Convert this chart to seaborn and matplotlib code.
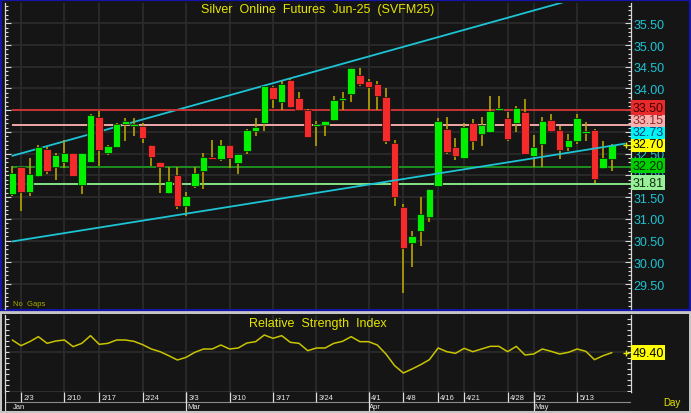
import numpy as np
import pandas as pd
import matplotlib
matplotlib.use('Agg')
import matplotlib.pyplot as plt
from matplotlib.patches import Rectangle
from matplotlib.ticker import MultipleLocator, FixedLocator, NullFormatter, FormatStrFormatter
import seaborn as sns

# %% data (Jan 31 .. May 15, daily bars)
opens = [31.56, 32.19, 31.61, 31.98, 32.61, 32.20, 32.30, 32.51, 31.79, 32.31,
         33.35, 32.52, 32.66, 33.18, 33.14, 33.14, 32.70, 32.30, 31.59, 32.01,
         31.30, 31.76, 32.09, 32.41, 32.38, 32.70, 32.29, 32.55, 33.03, 33.21,
         34.03, 33.70, 34.20, 33.78, 33.51, 33.13, 33.17, 33.27, 33.73, 33.87,
         34.32, 34.18, 34.10, 33.80, 32.75, 31.28, 30.44, 30.71, 31.04, 31.76,
         33.07, 32.65, 32.39, 33.21, 32.95, 32.99, 33.50, 33.31, 33.20, 33.46,
         32.45, 32.72, 33.28, 33.04, 32.66, 32.80, 32.98, 33.04, 32.16, 32.38]
highs = [32.22, 32.20, 32.40, 32.70, 32.65, 32.51, 32.81, 32.52, 32.51, 33.41,
         33.49, 32.69, 33.20, 33.33, 33.32, 33.20, 32.71, 32.31, 32.20, 32.20,
         31.61, 32.20, 32.51, 32.81, 32.81, 32.71, 32.50, 33.07, 33.32, 34.06,
         34.06, 34.17, 34.22, 33.93, 33.52, 33.25, 33.25, 33.82, 33.91, 34.46,
         34.46, 34.22, 34.18, 34.00, 32.81, 31.34, 30.71, 31.51, 31.69, 33.33,
         33.34, 32.85, 33.20, 33.29, 33.34, 33.82, 33.82, 33.45, 33.60, 33.75,
         32.93, 33.34, 33.41, 33.14, 32.95, 33.41, 33.22, 33.06, 32.79, 32.72]
lows = [31.52, 31.19, 31.53, 31.97, 32.03, 31.90, 32.17, 31.98, 31.58, 32.30,
        32.21, 32.48, 32.65, 32.78, 32.91, 32.74, 32.22, 31.59, 31.58, 31.22,
        31.07, 31.71, 31.69, 32.37, 32.33, 32.18, 32.03, 32.49, 32.91, 33.03,
        33.54, 33.51, 33.56, 33.49, 32.89, 32.68, 32.91, 33.26, 33.51, 33.68,
        34.06, 33.51, 33.51, 32.72, 31.30, 29.29, 29.90, 30.38, 30.93, 31.75,
        32.49, 32.35, 32.38, 32.59, 32.68, 32.98, 33.49, 32.78, 32.99, 32.49,
        32.20, 32.20, 32.99, 32.38, 32.57, 32.72, 32.78, 31.82, 32.15, 32.09]
closes = [32.06, 31.61, 32.03, 32.65, 32.09, 32.48, 32.52, 31.99, 32.51, 33.39,
          32.59, 32.68, 33.18, 33.25, 33.16, 32.85, 32.43, 32.19, 31.88, 31.30,
          31.53, 32.05, 32.42, 32.38, 32.70, 32.41, 32.50, 33.04, 33.12, 34.05,
          33.76, 34.10, 33.57, 33.51, 32.89, 33.18, 33.24, 33.73, 33.78, 34.46,
          34.10, 34.03, 33.83, 32.79, 31.50, 30.34, 30.61, 31.10, 31.69, 33.25,
          32.53, 32.45, 33.11, 32.79, 33.15, 33.48, 33.54, 32.84, 33.56, 32.49,
          32.65, 33.25, 33.03, 32.59, 32.82, 33.32, 33.00, 31.92, 32.41, 32.70]
rsi = [60.8, 55.7, 59.3, 63.8, 57.8, 59.9, 60.8, 54.8, 57.8, 64.7,
       56.9, 57.8, 60.8, 60.8, 59.6, 56.6, 52.7, 50.3, 46.7, 42.8,
       45.2, 49.7, 52.7, 52.7, 56.3, 52.7, 53.6, 58.1, 59.3, 65.3,
       62.3, 64.7, 58.7, 57.8, 51.2, 53.6, 53.6, 57.8, 59.6, 63.8,
       59.3, 59.3, 56.3, 48.2, 37.7, 31.1, 34.7, 38.6, 43.1, 53.6,
       50.3, 48.8, 53.3, 50.3, 52.7, 55.1, 55.1, 50.3, 55.1, 47.3,
       48.2, 52.7, 50.6, 48.2, 49.7, 52.7, 50.6, 43.1, 46.7, 49.4]

date_idx = [1, 6, 10, 15, 20, 25, 30, 35, 41, 45, 49, 52, 57, 60, 65]
date_labels = ['2/3', '2/10', '2/17', '2/24', '3/3', '3/10', '3/17', '3/24',
               '4/1', '4/8', '4/16', '4/21', '4/28', '5/2', '5/13']
month_idx = [0, 20, 41, 60]
month_labels = ['Jan', 'Mar', 'Apr', 'May']

levels = [33.50, 33.15, 32.20, 31.81]
level_colors = ['#c83434', '#f0a8a8', '#1f8f1f', '#86e286']
level_box_colors = ['#e82a2a', '#f7b0b0', '#00d000', '#98f098']

channel_x = [0, 70.5]
upper_channel = [32.45, 36.38]
lower_channel = [30.48, 32.73]
rsi_last = 49.40

df = pd.DataFrame({'idx': np.arange(len(closes)), 'open': opens, 'high': highs,
                   'low': lows, 'close': closes, 'rsi': rsi})

# %% style
sns.set_style('dark')
plt.rcParams['font.family'] = ['Liberation Sans', 'DejaVu Sans']

BG = '#151515'
GRID = '#2b2b2b'
CYAN = '#1cc4d4'
YEL = '#e6e600'
W, H = 691, 414


def fig_rect(x0, y0, x1, y1):
    return [x0 / W, 1 - y1 / H, (x1 - x0) / W, (y1 - y0) / H]


fig = plt.figure(figsize=(W / 100, H / 100), dpi=100, facecolor='#c4c4c4')
fig.add_artist(Rectangle((1 / W, 1 - 311 / H), 689 / W, 310 / H, transform=fig.transFigure,
                         facecolor=BG, edgecolor='#1414a8', linewidth=1.6, zorder=0))
fig.add_artist(Rectangle((2 / W, 1 - 412 / H), 687 / W, 97 / H, transform=fig.transFigure,
                         facecolor=BG, edgecolor='none', zorder=0))

ax = fig.add_axes(fig_rect(5, 4, 631, 310))
ax_rsi = fig.add_axes(fig_rect(5, 316, 631, 393))
ax_dt = fig.add_axes(fig_rect(5, 393, 631, 412))

xlim = (-0.84, 71.2)
for a in (ax, ax_rsi, ax_dt):
    a.set_facecolor(BG)
    a.set_xlim(*xlim)
    a.set_xticks([])
    for s in a.spines.values():
        s.set_visible(False)

# %% main price panel
ax.set_ylim(28.925, 35.967)
price_ticks = np.arange(29.5, 35.51, 0.5)
for y in price_ticks:
    ax.axhline(y, color=GRID, lw=1.3, zorder=0)
for i in date_idx:
    ax.axvline(i, color=GRID, lw=1.3, zorder=0)

up = df['close'] >= df['open']
ax.vlines(df['idx'], df['low'], df['high'], color='#b8a400', lw=1.2, zorder=3)
body = np.maximum((df['close'] - df['open']).abs(), 0.04)
ax.bar(df['idx'], body, bottom=np.minimum(df['open'], df['close']), width=0.86,
       color=np.where(up, '#00f000', '#f52a2a'), edgecolor='#101010', linewidth=0.5, zorder=4)

ax.plot(channel_x, upper_channel, color=CYAN, lw=1.3, zorder=2)
ax.plot(channel_x, lower_channel, color=CYAN, lw=1.3, zorder=5)
for lv, c in zip(levels, level_colors):
    ax.hlines(lv, 0, xlim[1], color=c, lw=1.4, zorder=2)

ax.yaxis.set_major_locator(FixedLocator(price_ticks))
ax.yaxis.set_minor_locator(MultipleLocator(0.1))
ax.yaxis.set_major_formatter(FormatStrFormatter('%.2f'))
ax.tick_params(axis='y', which='both', left=True, right=True, labelleft=False, labelright=True,
               direction='in', color='#d8d8d8', width=0.8, labelcolor=CYAN, labelsize=9, pad=2)
ax.tick_params(axis='y', which='major', length=4.5)
ax.tick_params(axis='y', which='minor', length=2.5)
for side in ('left', 'right'):
    ax.spines[side].set_visible(True)
    ax.spines[side].set_color('#d8d8d8')
    ax.spines[side].set_linewidth(0.9)

ax.text(0.5, 0.981, 'Silver  Online  Futures  Jun-25  (SVFM25)', transform=ax.transAxes,
        ha='center', va='center', color=YEL, fontsize=9)
ax.text(0.012, 0.005, 'No  Gaps', transform=ax.transAxes, ha='left', va='bottom',
        color='#a8a800', fontsize=5.5)

# value boxes on the right axis, stacked so they do not overlap
box_vals = levels + [lower_channel[-1], closes[-1]]
box_fc = level_box_colors + ['#00f4f4', '#ffff00']
box_tc = ['#400000', '#902828', '#002800', '#103010', '#003c78', '#000000']
order = np.argsort(box_vals)
prev = -np.inf
for k in order:
    ypos = max(box_vals[k], prev + 0.28)
    prev = ypos
    ax.text(1.0025, ypos + 0.02, f'{box_vals[k]:.2f}', transform=ax.get_yaxis_transform(),
            ha='left', va='center', fontsize=9, color=box_tc[k], clip_on=False, zorder=10,
            bbox=dict(boxstyle='square,pad=0.12', fc=box_fc[k], ec='none'))
ax.plot(len(closes) + 0.6, closes[-1], marker='+', ms=4, mew=1, color=YEL, zorder=6, clip_on=False)

# %% RSI panel
ax_rsi.set_ylim(14, 83.3)
ax_rsi.axhline(50, color=GRID, lw=1.3, zorder=0)
for i in date_idx:
    ax_rsi.axvline(i, color=GRID, lw=1.3, zorder=0)
sns.lineplot(data=df, x='idx', y='rsi', ax=ax_rsi, color='#c8c400', lw=1.1)
ax_rsi.set_xlim(*xlim)
ax_rsi.set_xlabel('')
ax_rsi.set_ylabel('')
ax_rsi.set_xticks([])
ax_rsi.yaxis.set_major_locator(MultipleLocator(5))
ax_rsi.yaxis.set_major_formatter(NullFormatter())
ax_rsi.tick_params(axis='y', which='major', left=True, right=True, direction='in', length=3,
                   color='#d8d8d8', width=0.8)
for side in ('left', 'right', 'bottom'):
    ax_rsi.spines[side].set_visible(True)
    ax_rsi.spines[side].set_color('#d8d8d8')
    ax_rsi.spines[side].set_linewidth(0.9)
ax_rsi.text(0.5, 0.89, 'Relative  Strength  Index', transform=ax_rsi.transAxes,
            ha='center', va='center', color=YEL, fontsize=9)
ax_rsi.text(1.0025, rsi_last, f'{rsi_last:.2f}', transform=ax_rsi.get_yaxis_transform(),
            ha='left', va='center', fontsize=9, color='#000000', clip_on=False, zorder=10,
            bbox=dict(boxstyle='square,pad=0.12', fc='#ffff00', ec='none'))
ax_rsi.plot(len(rsi) + 0.6, rsi[-1], marker='+', ms=4, mew=1, color=YEL, clip_on=False)

# %% date strip
ax_dt.set_ylim(0, 2)
ax_dt.set_yticks([])
ax_dt.axhline(1, color='#8a8a8a', lw=0.8)
ax_dt.axhline(0.02, color='#8a8a8a', lw=0.8)
ax_dt.vlines(date_idx, 1, 2, color='#e0e0e0', lw=0.9)
ax_dt.vlines(month_idx[1:], 0, 2, color='#e0e0e0', lw=0.9)
ax_dt.axvline(xlim[0] + 0.05, color='#d8d8d8', lw=0.9)
for i, lab in zip(date_idx, date_labels):
    ax_dt.text(i + 0.25, 1.45, lab, ha='left', va='center', color='#e8e8e8', fontsize=5.5)
for i, lab in zip(month_idx, month_labels):
    ax_dt.text(i + 0.1, 0.5, lab, ha='left', va='center', color='#e8e8e8', fontsize=5.5)

fig.text(672 / W, 1 - 403 / H, 'Day', ha='center', va='center', color=YEL, fontsize=7)

fig.savefig('out.png', dpi=100, facecolor=fig.get_facecolor())
